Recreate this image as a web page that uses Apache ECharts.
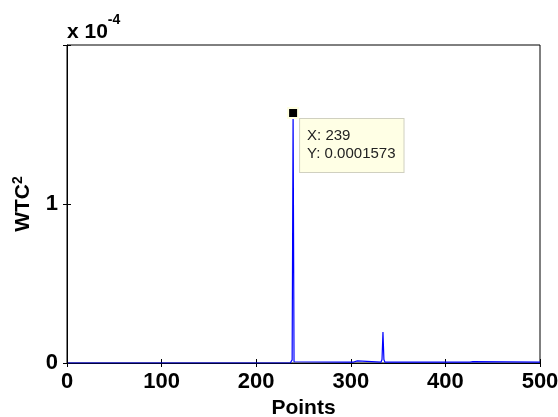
<!DOCTYPE html>
<html>
<head>
<meta charset="utf-8">
<script src="https://cdn.jsdelivr.net/npm/echarts@6/dist/echarts.min.js"></script>
<style>
  html, body { margin: 0; padding: 0; background: #fff; }
  #chart { width: 558px; height: 417px; }
</style>
</head>
<body>
<div id="chart"></div>
<script>
// sample index and WTC^2 value (only points where the curve changes)
const pointX = [1, 236, 237, 238, 239, 240, 241, 300, 303, 305, 307, 309, 332, 333, 334, 335, 336, 373, 375, 377, 426, 428, 429, 431, 500];
const wtcY = [0, 0, 0, 0.000002, 0.0001573, 0.0000008, 0.0000005, 0.0000005, 0.0000006, 0.0000014, 0.0000013, 0.0000005,
  0.0000006, 0.0000022, 0.0000195, 0.0000022, 0.0000006, 0.0000005, 0.0000011, 0.0000005, 0.0000005, 0.0000012, 0.0000009, 0.0000005, 0.0000005];
const xTicks = [0, 100, 200, 300, 400, 500];
const yTickLabels = ['0', '1'];
const tipX = 239;
const tipY = 0.0001573;

const chart = echarts.init(document.getElementById('chart'));
const font = 'Liberation Sans, Arial, sans-serif';

const lineData = pointX.map((x, i) => [x, wtcY[i]]);

const option = {
  animation: false,
  grid: {
    left: 67, right: 18, top: 45, bottom: 54,
    outerBoundsMode: 'none',
    containLabel: false,
    show: true, borderColor: '#000', borderWidth: 1
  },
  xAxis: [
    {
      type: 'value', min: xTicks[0], max: xTicks[xTicks.length - 1], interval: 100,
      name: 'Points', nameLocation: 'middle', nameGap: 35,
      nameTextStyle: { fontFamily: font, fontWeight: 'bold', fontSize: 21, color: '#000' },
      axisLine: { show: true, onZero: false, lineStyle: { color: '#000', width: 1 } },
      axisTick: { show: true, inside: true, length: 4, lineStyle: { color: '#000' } },
      axisLabel: { fontFamily: font, fontWeight: 'bold', fontSize: 22, color: '#000', margin: 8 },
      splitLine: { show: false }
    },
    {
      type: 'value', position: 'top', min: 0, max: 500, interval: 100,
      axisLine: { show: false },
      axisTick: { show: true, inside: true, length: 4, lineStyle: { color: '#000' } },
      axisLabel: { show: false },
      splitLine: { show: false }
    }
  ],
  yAxis: [
    {
      type: 'value', min: 0, max: 0.0002, interval: 0.0001,
      name: '{a|WTC}{b|2}', nameLocation: 'middle', nameGap: 29, nameRotate: 90,
      nameTextStyle: {
        color: '#000',
        rich: {
          a: { fontFamily: font, fontWeight: 'bold', fontSize: 21, color: '#000', lineHeight: 24 },
          b: { fontFamily: font, fontWeight: 'bold', fontSize: 14, color: '#000', verticalAlign: 'top', lineHeight: 24, padding: [0, 0, 10, 0] }
        }
      },
      axisLine: { show: true, lineStyle: { color: '#000', width: 1 } },
      axisTick: { show: true, inside: true, length: 4, lineStyle: { color: '#000' } },
      axisLabel: {
        fontFamily: font, fontWeight: 'bold', fontSize: 22, color: '#000', margin: 9,
        formatter: v => yTickLabels[Math.round(v * 10000)] || ''
      },
      splitLine: { show: false }
    },
    {
      type: 'value', position: 'right', min: 0, max: 0.0002, interval: 0.0001,
      axisLine: { show: false },
      axisTick: { show: true, inside: true, length: 4, lineStyle: { color: '#000' } },
      axisLabel: { show: false },
      splitLine: { show: false }
    }
  ],
  graphic: [
    {
      type: 'text', left: 67, top: 13,
      style: {
        text: '{a|x 10}{b|-4}',
        rich: {
          a: { fontFamily: font, fontWeight: 'bold', fontSize: 21, fill: '#000', lineHeight: 30, verticalAlign: 'bottom' },
          b: { fontFamily: font, fontWeight: 'bold', fontSize: 14, fill: '#000', lineHeight: 30, verticalAlign: 'top' }
        }
      }
    }
  ],
  series: [
    {
      type: 'line',
      data: lineData,
      showSymbol: false,
      lineStyle: { color: '#0000ff', width: 1.2 },
      itemStyle: { color: '#0000ff' },
      markPoint: {
        silent: true,
        symbol: 'rect',
        symbolSize: 10,
        itemStyle: { color: '#000', borderColor: '#ffffe1', borderWidth: 2 },
        label: {
          show: true,
          position: [13, 12],
          formatter: 'X: ' + tipX + '\nY: ' + tipY.toFixed(7),
          fontFamily: font, fontSize: 15, color: '#222',
          lineHeight: 18,
          backgroundColor: '#ffffe5',
          borderColor: '#d0d0c0', borderWidth: 1,
          padding: [8, 8, 9, 7]
        },
        data: [{ coord: [tipX, tipY] }]
      }
    }
  ]
};

chart.setOption(option);
</script>
</body>
</html>
